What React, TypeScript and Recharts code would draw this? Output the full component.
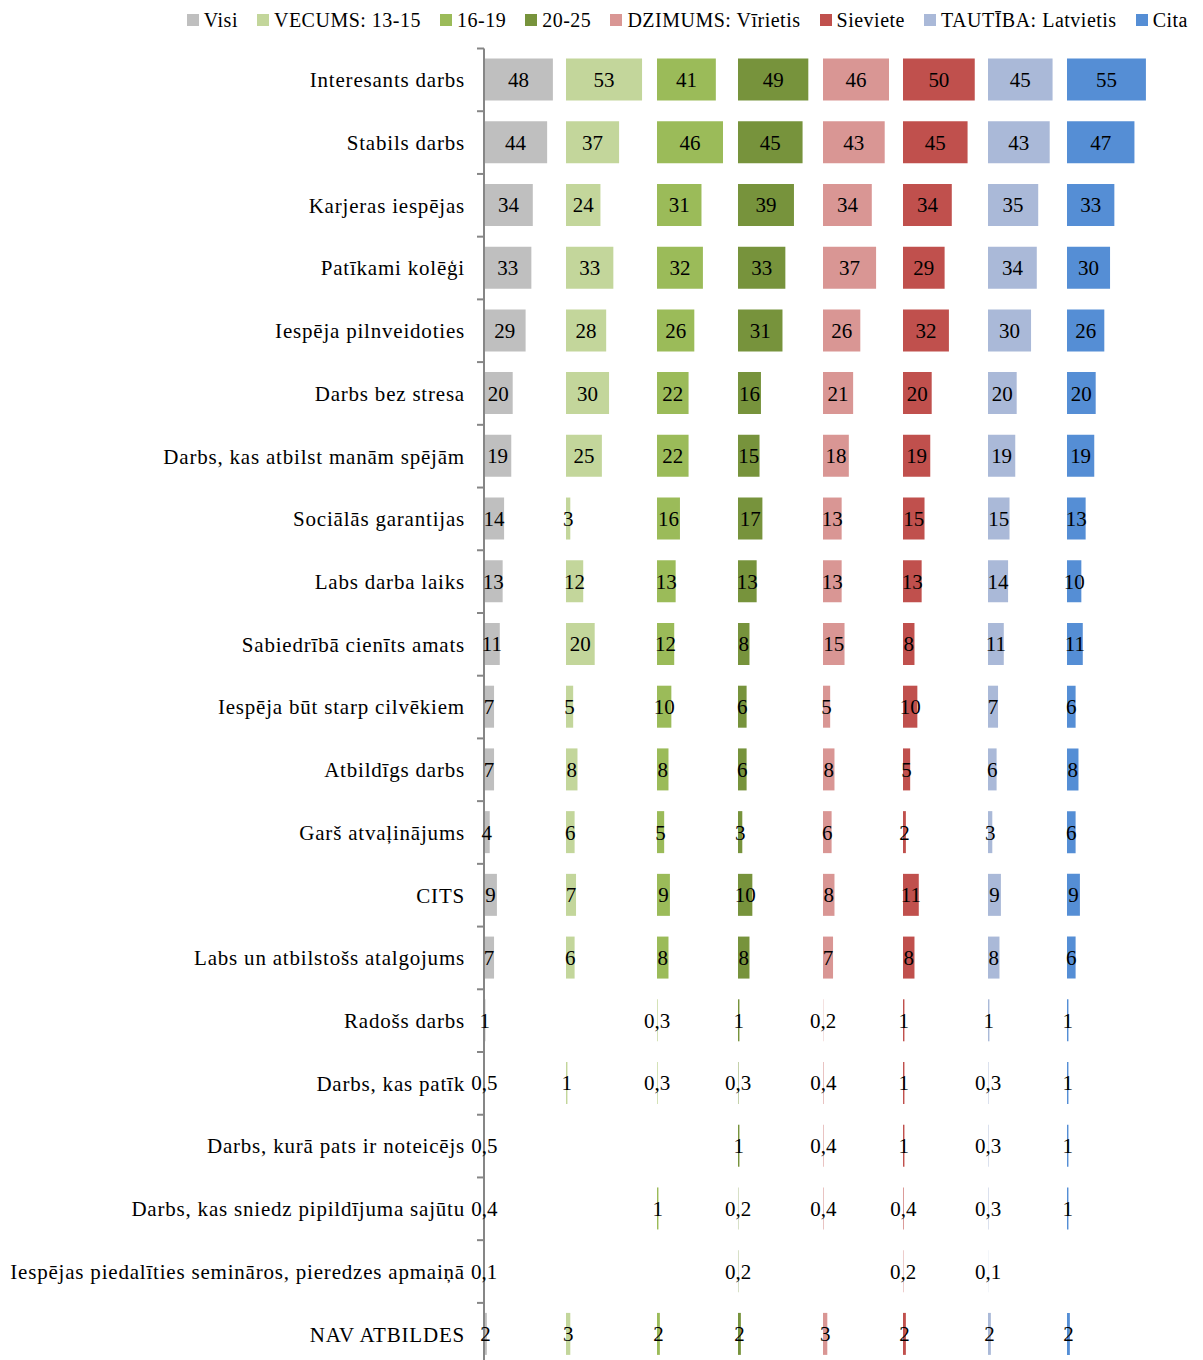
import { BarChart, Bar, XAxis, YAxis, LabelList } from "recharts";

const categories = [
	"Interesants darbs",
	"Stabils darbs",
	"Karjeras iespējas",
	"Patīkami kolēģi",
	"Iespēja pilnveidoties",
	"Darbs bez stresa",
	"Darbs, kas atbilst manām spējām",
	"Sociālās garantijas",
	"Labs darba laiks",
	"Sabiedrībā cienīts amats",
	"Iespēja būt starp cilvēkiem",
	"Atbildīgs darbs",
	"Garš atvaļinājums",
	"CITS",
	"Labs un atbilstošs atalgojums",
	"Radošs darbs",
	"Darbs, kas patīk",
	"Darbs, kurā pats ir noteicējs",
	"Darbs, kas sniedz pipildījuma sajūtu",
	"Iespējas piedalīties semināros, pieredzes apmaiņā",
	"NAV ATBILDES",
];

const visi = [48, 44, 34, 33, 29, 20, 19, 14, 13, 11, 7, 7, 4, 9, 7, 1, 0.5, 0.5, 0.4, 0.1, 2];
const vecums1315 = [53, 37, 24, 33, 28, 30, 25, 3, 12, 20, 5, 8, 6, 7, 6, null, 1, null, null, null, 3];
const vecums1619 = [41, 46, 31, 32, 26, 22, 22, 16, 13, 12, 10, 8, 5, 9, 8, 0.3, 0.3, null, 1, null, 2];
const vecums2025 = [49, 45, 39, 33, 31, 16, 15, 17, 13, 8, 6, 6, 3, 10, 8, 1, 0.3, 1, 0.2, 0.2, 2];
const virietis = [46, 43, 34, 37, 26, 21, 18, 13, 13, 15, 5, 8, 6, 8, 7, 0.2, 0.4, 0.4, 0.4, null, 3];
const sieviete = [50, 45, 34, 29, 32, 20, 19, 15, 13, 8, 10, 5, 2, 11, 8, 1, 1, 1, 0.4, 0.2, 2];
const latvietis = [45, 43, 35, 34, 30, 20, 19, 15, 14, 11, 7, 6, 3, 9, 8, 1, 0.3, 0.3, 0.3, 0.1, 2];
const cita = [55, 47, 33, 30, 26, 20, 19, 13, 10, 11, 6, 8, 6, 9, 6, 1, 1, 1, 1, null, 2];

const seriesNames = [
	"Visi",
	"VECUMS: 13-15",
	"16-19",
	"20-25",
	"DZIMUMS: Vīrietis",
	"Sieviete",
	"TAUTĪBA: Latvietis",
	"Cita",
];
const seriesValues = [visi, vecums1315, vecums1619, vecums2025, virietis, sieviete, latvietis, cita];
const colors = ["#BFBFBF", "#C3D69B", "#9BBB59", "#77933C", "#D99694", "#C0504D", "#AAB9D8", "#558ED5"];

// layout
const FONT = "'Liberation Serif', 'Times New Roman', serif";
const CHART_W = 1203;
const PLOT_LEFT = 484;
const PLOT_TOP = 48.5;
const BAND = 62.72;
const CHART_H = PLOT_TOP + BAND * categories.length;
const PX_PER_UNIT = 1.435;
// where each panel's bars start, px from the axis line
const panelOffsets = [0, 82, 173, 254, 339, 419, 504, 583];
const PLOT_W = CHART_W - PLOT_LEFT;

const data = categories.map((name, i) => {
	const row: Record<string, string | number | null> = { name };
	seriesValues.forEach((vals, k) => {
		row[`s${k}`] = vals[i];
	});
	return row;
});

const fmt = (v: any) => String(v).replace(".", ",");

const CategoryTick = (props: any) => {
	const { y, payload } = props;
	return (
		<g>
			<line
				x1={PLOT_LEFT - 7}
				x2={PLOT_LEFT}
				y1={y - BAND / 2}
				y2={y - BAND / 2}
				stroke="#868686"
				strokeWidth={2}
			/>
			<text
				x={PLOT_LEFT - 19}
				y={y}
				dy="0.35em"
				textAnchor="end"
				fontSize={21}
				letterSpacing={0.8}
				fill="#000"
				fontFamily={FONT}
			>
				{payload.value}
			</text>
		</g>
	);
};

const App = () => {
	return (
		<div
			style={{
				position: "fixed",
				top: 0,
				left: 0,
				width: CHART_W,
				height: 1360,
				overflow: "hidden",
				background: "#fff",
				fontFamily: FONT,
			}}
		>
			{/* legend */}
			<div
				style={{
					position: "absolute",
					top: 7,
					right: 15,
					display: "flex",
					alignItems: "center",
					gap: 19,
					fontSize: 20,
					letterSpacing: 0.5,
					lineHeight: "26px",
					color: "#000",
				}}
			>
				{seriesNames.map((n, k) => (
					<div key={n} style={{ display: "flex", alignItems: "center" }}>
						<span
							style={{
								display: "inline-block",
								width: 12,
								height: 12,
								background: colors[k],
								marginRight: 5,
							}}
						/>
						<span>{n}</span>
					</div>
				))}
			</div>
			<div style={{ position: "absolute", top: 0, left: 0 }}>
				<BarChart
					width={CHART_W}
					height={CHART_H}
					data={data}
					layout="vertical"
					margin={{ top: PLOT_TOP, right: 0, left: 0, bottom: 0 }}
				>
					{seriesValues.map((_, k) => (
						<XAxis
							key={`x${k}`}
							xAxisId={k}
							type="number"
							hide
							allowDataOverflow
							domain={[
								-panelOffsets[k] / PX_PER_UNIT,
								(PLOT_W - panelOffsets[k]) / PX_PER_UNIT,
							]}
						/>
					))}
					<YAxis
						yAxisId={0}
						type="category"
						dataKey="name"
						width={PLOT_LEFT}
						interval={0}
						tickLine={false}
						axisLine={{ stroke: "#868686", strokeWidth: 2 }}
						tick={<CategoryTick />}
					/>
					{seriesValues.slice(1).map((_, i) => (
						<YAxis key={`y${i + 1}`} yAxisId={i + 1} type="category" dataKey="name" hide />
					))}
					{seriesValues.map((_, k) => (
						<Bar
							key={`b${k}`}
							dataKey={`s${k}`}
							name={seriesNames[k]}
							xAxisId={k}
							yAxisId={k}
							fill={colors[k]}
							barSize={42}
							isAnimationActive={false}
						>
							<LabelList
								dataKey={`s${k}`}
								position="center"
								formatter={fmt}
								fontSize={21}
								fill="#000"
								fontFamily={FONT}
							/>
						</Bar>
					))}
				</BarChart>
			</div>
		</div>
	);
};

export default App;
